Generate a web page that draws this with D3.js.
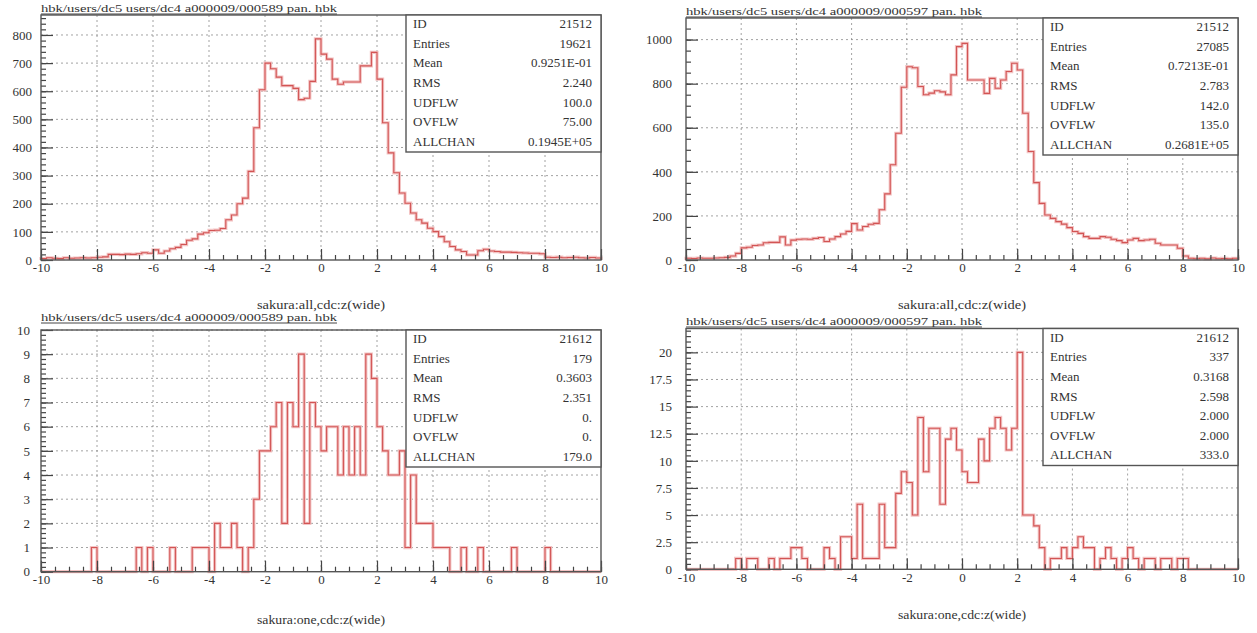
<!DOCTYPE html>
<html>
<head>
<meta charset="utf-8">
<script src="https://cdn.jsdelivr.net/npm/d3@7"></script>
<style>
  body { margin: 0; background: #fff; }
  svg text { font-family: "Liberation Serif", "DejaVu Serif", serif !important; fill: #333; }
</style>
</head>
<body>
<div id="chart"></div>
<script>
// 100 bins of width 0.2 from -10 to 10
var xLo = -10, xHi = 10, nBins = 100;

// top left : sakura:all, run 000589
var allRun589 = [5, 8, 6, 5, 8, 6, 7, 8, 7, 8,
  10, 11, 20, 20, 19, 21, 20, 22, 26, 24,
  36, 24, 32, 40, 45, 55, 70, 75, 92, 97,
  105, 106, 112, 143, 160, 200, 220, 315, 470, 605,
  700, 680, 650, 620, 620, 610, 570, 575, 635, 786,
  732, 714, 643, 625, 633, 633, 633, 690, 690, 738,
  643, 488, 381, 310, 238, 202, 167, 143, 131, 113,
  101, 83, 65, 48, 36, 30, 18, 18, 33, 38,
  32, 30, 28, 28, 27, 26, 25, 24, 24, 22,
  10, 9, 10, 8, 9, 10, 8, 7, 9, 7];

// top right : sakura:all, run 000597
var allRun597 = [8, 7, 9, 8, 8, 9, 10, 12, 18, 30,
  55, 58, 66, 68, 78, 80, 80, 105, 68, 90,
  94, 95, 94, 98, 102, 84, 95, 106, 118, 130,
  165, 136, 152, 162, 166, 228, 300, 432, 575, 784,
  877, 872, 787, 750, 757, 768, 763, 750, 840, 968,
  983, 817, 817, 817, 756, 824, 779, 817, 855, 893,
  862, 666, 492, 351, 257, 204, 189, 174, 163, 147,
  129, 121, 106, 98, 98, 106, 103, 94, 88, 79,
  91, 98, 88, 91, 94, 76, 68, 68, 68, 53,
  18, 8, 6, 8, 5, 9, 6, 7, 5, 8];

// bottom left : sakura:one, run 000589
var oneRun589 = [0, 0, 0, 0, 0, 0, 0, 0, 0, 1,
  0, 0, 0, 0, 0, 0, 0, 1, 0, 1,
  0, 0, 0, 1, 0, 0, 0, 1, 1, 1,
  0, 2, 1, 1, 2, 1, 0, 1, 3, 5,
  5, 6, 7, 2, 7, 6, 9, 2, 7, 6,
  5, 6, 6, 4, 6, 4, 6, 4, 9, 8,
  6, 5, 4, 4, 5, 1, 4, 2, 2, 2,
  1, 1, 1, 0, 0, 1, 0, 0, 1, 0,
  0, 0, 0, 0, 1, 0, 0, 0, 0, 0,
  1, 0, 0, 0, 0, 0, 0, 0, 0, 0];

// bottom right : sakura:one, run 000597
var oneRun597 = [0, 0, 0, 0, 0, 0, 0, 0, 0, 1,
  0, 1, 1, 0, 0, 1, 0, 1, 1, 2,
  2, 1, 0, 0, 0, 2, 1, 0, 3, 3,
  1, 6, 1, 1, 1, 6, 2, 2, 7, 9,
  8, 5, 14, 9, 13, 13, 6, 12, 13, 11,
  9, 8, 8, 12, 10, 13, 14, 13, 11, 13,
  20, 5, 5, 4, 2, 0, 1, 1, 2, 1,
  2, 3, 2, 2, 0, 1, 2, 1, 0, 1,
  2, 1, 0, 1, 1, 0, 1, 1, 0, 1,
  1, 0, 0, 0, 0, 0, 0, 0, 0, 0];

// tick labels
var xTickVals = [-10, -8, -6, -4, -2, 0, 2, 4, 6, 8, 10];
var yTicksAll589 = [0, 100, 200, 300, 400, 500, 600, 700, 800];
var yTicksAll597 = [0, 200, 400, 600, 800, 1000];
var yTicksOne589 = [0, 1, 2, 3, 4, 5, 6, 7, 8, 9, 10];
var yTicksOne597 = [0, 2.5, 5, 7.5, 10, 12.5, 15, 17.5, 20];

// statistics boxes
var statNames = ["ID", "Entries", "Mean", "RMS", "UDFLW", "OVFLW", "ALLCHAN"];
var statsAll589 = ["21512", "19621", "0.9251E-01", "2.240", "100.0", "75.00", "0.1945E+05"];
var statsAll597 = ["21512", "27085", "0.7213E-01", "2.783", "142.0", "135.0", "0.2681E+05"];
var statsOne589 = ["21612", "179", "0.3603", "2.351", "0.", "0.", "179.0"];
var statsOne597 = ["21612", "337", "0.3168", "2.598", "2.000", "2.000", "333.0"];

var title589 = "hbk/users/dc5 users/dc4 a000009/000589 pan. hbk";
var title597 = "hbk/users/dc5 users/dc4 a000009/000597 pan. hbk";

var panels = [
  {data: allRun589, stats: statsAll589, yTicks: yTicksAll589, yMinor: 20, ymax: 871,
   x0: 41, x1: 601, top: 15, bottom: 260, gap: 9,
   title: title589, titleY: 12, xtitle: "sakura:all,cdc:z(wide)", xtitleX: 321, xtitleY: 309},
  {data: allRun597, stats: statsAll597, yTicks: yTicksAll597, yMinor: 50, ymax: 1098,
   x0: 686, x1: 1238, top: 18, bottom: 260, gap: 14,
   title: title597, titleY: 15, xtitle: "sakura:all,cdc:z(wide)", xtitleX: 962, xtitleY: 309},
  {data: oneRun589, stats: statsOne589, yTicks: yTicksOne589, yMinor: 0.2, ymax: 10,
   x0: 41, x1: 601, top: 330, bottom: 571.7, gap: 11,
   title: title589, titleY: 321, xtitle: "sakura:one,cdc:z(wide)", xtitleX: 321, xtitleY: 624},
  {data: oneRun597, stats: statsOne597, yTicks: yTicksOne597, yMinor: 0.5, ymax: 22.2,
   x0: 686, x1: 1238, top: 328.5, bottom: 569.3, gap: 14,
   title: title597, titleY: 325, xtitle: "sakura:one,cdc:z(wide)", xtitleX: 962, xtitleY: 619}
];

var serif = "'Liberation Serif', 'DejaVu Serif', serif";

var svg = d3.select("#chart").append("svg")
    .attr("width", 1257)
    .attr("height", 633)
    .style("display", "block")
    .style("font-family", serif);

var binW = (xHi - xLo) / nBins;

panels.forEach(function(p) {
  var x = d3.scaleLinear().domain([xLo, xHi]).range([p.x0, p.x1]);
  var y = d3.scaleLinear().domain([0, p.ymax]).range([p.bottom, p.top]);
  var g = svg.append("g");

  // dotted grid
  g.selectAll(".vgrid").data(xTickVals.slice(1, -1)).enter().append("line")
      .attr("x1", d => x(d)).attr("x2", d => x(d))
      .attr("y1", p.top).attr("y2", p.bottom)
      .attr("stroke", "#8a8a8a").attr("stroke-width", 0.8)
      .attr("stroke-dasharray", "2,3");
  g.selectAll(".hgrid").data(p.yTicks.filter(d => d > 0)).enter().append("line")
      .attr("x1", p.x0).attr("x2", p.x1)
      .attr("y1", d => y(d)).attr("y2", d => y(d))
      .attr("stroke", "#8a8a8a").attr("stroke-width", 0.8)
      .attr("stroke-dasharray", "2,3");

  // histogram outline
  var pts = [[xLo, 0]];
  p.data.forEach(function(v, i) { pts.push([xLo + i * binW, v]); });
  pts.push([xHi, p.data[p.data.length - 1]]);
  pts.push([xHi, 0]);
  var line = d3.line().x(d => x(d[0])).y(d => y(d[1])).curve(d3.curveStepAfter);
  g.append("path").attr("d", line(pts))
      .attr("fill", "none").attr("stroke", "#f3c4c4").attr("stroke-width", 3.2);
  g.append("path").attr("d", line(pts))
      .attr("fill", "none").attr("stroke", "#d25454").attr("stroke-width", 1.1);

  // minor ticks
  g.append("g").attr("transform", "translate(0," + p.bottom + ")")
      .call(d3.axisBottom(x).tickValues(d3.range(xLo, xHi + 0.01, 0.5))
        .tickSize(-5).tickSizeOuter(0).tickFormat(""))
      .call(a => a.select(".domain").remove());
  g.append("g").attr("transform", "translate(" + p.x0 + ",0)")
      .call(d3.axisLeft(y).tickValues(d3.range(0, p.ymax, p.yMinor))
        .tickSize(-5).tickSizeOuter(0).tickFormat(""))
      .call(a => a.select(".domain").remove());

  // major ticks + labels
  var xa = g.append("g").attr("transform", "translate(0," + p.bottom + ")")
      .call(d3.axisBottom(x).tickValues(xTickVals).tickSize(-11).tickSizeOuter(0)
        .tickFormat(d => String(d)).tickPadding(3));
  xa.select(".domain").remove();
  var ya = g.append("g").attr("transform", "translate(" + p.x0 + ",0)")
      .call(d3.axisLeft(y).tickValues(p.yTicks).tickSize(-12).tickSizeOuter(0)
        .tickFormat(d => String(d)).tickPadding(p.gap));
  ya.select(".domain").remove();
  g.selectAll("g").attr("font-family", serif);
  g.selectAll(".tick line").attr("stroke", "#444").attr("stroke-width", 1.2);
  g.selectAll(".tick text").style("font-size", "13px").style("font-family", serif)
      .attr("fill", "#333");

  // frame
  g.append("rect").attr("x", p.x0).attr("y", p.top)
      .attr("width", p.x1 - p.x0).attr("height", p.bottom - p.top)
      .attr("fill", "none").attr("stroke", "#555").attr("stroke-width", 1.4);

  // stats box
  var bw = 195, bh = 137, bx = p.x1 - bw, pitch = bh / 7;
  g.append("rect").attr("x", bx).attr("y", p.top).attr("width", bw).attr("height", bh)
      .attr("fill", "#fff").attr("stroke", "#555").attr("stroke-width", 1.4);
  statNames.forEach(function(n, i) {
    var ty = p.top + pitch * (i + 0.5) - 1;
    g.append("text").attr("x", bx + 7).attr("y", ty).attr("dy", "0.35em")
        .style("font-size", "13px").style("font-family", serif).text(n);
    g.append("text").attr("x", p.x1 - 9).attr("y", ty).attr("dy", "0.35em")
        .attr("text-anchor", "end").style("font-size", "13px").style("font-family", serif)
        .text(p.stats[i]);
  });

  // title (underlined) and x title
  g.append("text").attr("x", p.x0).attr("y", p.titleY)
      .style("font-size", "11px").style("font-family", serif)
      .attr("textLength", 296).attr("lengthAdjust", "spacingAndGlyphs")
      .text(p.title);
  g.append("line").attr("x1", p.x0).attr("x2", p.x0 + 296)
      .attr("y1", p.titleY + 2).attr("y2", p.titleY + 2)
      .attr("stroke", "#444").attr("stroke-width", 1);
  g.append("text").attr("x", p.xtitleX).attr("y", p.xtitleY)
      .attr("text-anchor", "middle").style("font-size", "12px").style("font-family", serif)
      .attr("textLength", 128).attr("lengthAdjust", "spacingAndGlyphs")
      .text(p.xtitle);
});
</script>
</body>
</html>
